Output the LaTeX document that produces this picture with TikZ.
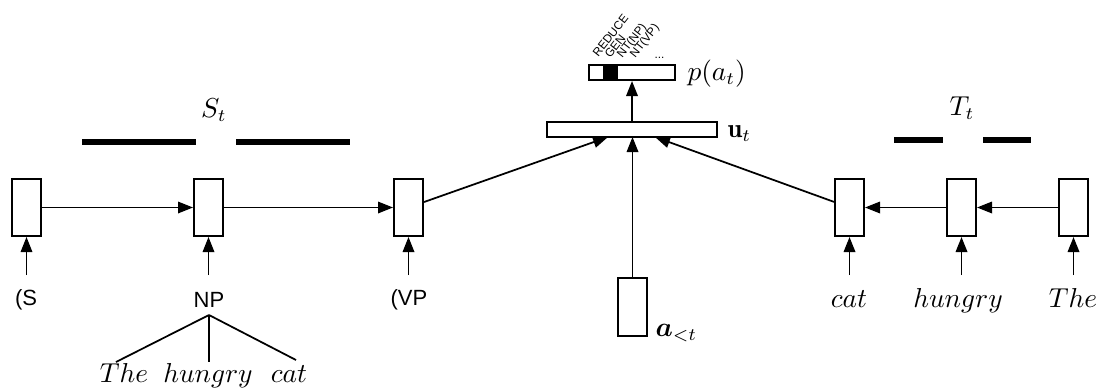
\documentclass[tikz,border=0pt]{standalone}
\usepackage{fontspec}
\setsansfont{Liberation Sans}
\usepackage{bm}
\usetikzlibrary{arrows.meta}
\begin{document}
\begin{tikzpicture}[x=0.4pt,y=-0.4pt,
  cell/.style={draw, line width=0.8pt, fill=white, inner sep=0pt, minimum width=11.6pt, minimum height=22.8pt},
  wide/.style={draw, line width=0.8pt, fill=white, inner sep=0pt, minimum height=6pt},
  conn/.style={line width=0.7pt, -{Triangle[length=6pt,width=4.6pt]}},
  plain/.style={line width=0.7pt},
  bar/.style={line width=2.4pt},
  sans/.style={font=\fontsize{8.8}{10}\selectfont\sffamily, inner sep=0pt},
  mth/.style={font=\fontsize{10.6}{12}\selectfont, inner sep=0pt},
  tiny/.style={font=\fontsize{4.7}{5}\selectfont\sffamily, inner sep=0pt, anchor=base west, rotate=52}]
\useasboundingbox (0,0) rectangle (1097,387);
% stack S_t
\node[cell] (b1) at (26.5,207.5) {};
\node[cell] (b2) at (208.5,207.5) {};
\node[cell] (b3) at (408.5,207.5) {};
\draw[conn] (b1) -- (b2);
\draw[conn] (b2) -- (b3);
\coordinate (s1) at (26.5,275);
\coordinate (s2) at (208.5,275);
\coordinate (s3) at (408.5,275);
\draw[conn] (s1) -- (b1);
\draw[conn] (s2) -- (b2);
\draw[conn] (s3) -- (b3);
\node[sans] (lS) at (26,300) {(S};
\node[sans] (lNP) at (209,300) {NP};
\node[sans] (lVP) at (409,300) {(VP};
% NP tree
\coordinate (np) at (209,315);
\node[mth, anchor=base] (w1) at (124,382) {$The$};
\node[mth, anchor=base] (w2) at (208,382) {$hungry$};
\node[mth, anchor=base] (w3) at (289,382) {$cat$};
\coordinate (w1t) at (116,362);
\coordinate (w2t) at (209,362);
\coordinate (w3t) at (296,360);
\draw[plain] (np) -- (w1t);
\draw[plain] (np) -- (w2t);
\draw[plain] (np) -- (w3t);
% S_t bars
\coordinate (sb1) at (82,142);
\coordinate (sb2) at (196,142);
\coordinate (sb3) at (236,142);
\coordinate (sb4) at (350,142);
\draw[bar] (sb1) -- (sb2);
\draw[bar] (sb3) -- (sb4);
\node[mth, anchor=base] (St) at (214,117) {$S_t$};
% T_t buffer
\node[cell] (c1) at (849.5,207.5) {};
\node[cell] (c2) at (961.5,207.5) {};
\node[cell] (c3) at (1073.5,207.5) {};
\draw[conn] (c3) -- (c2);
\draw[conn] (c2) -- (c1);
\coordinate (t1) at (849.5,275);
\coordinate (t2) at (961.5,275);
\coordinate (t3) at (1073.5,275);
\draw[conn] (t1) -- (c1);
\draw[conn] (t2) -- (c2);
\draw[conn] (t3) -- (c3);
\node[mth, anchor=base] (lc) at (849,307) {$cat$};
\node[mth, anchor=base] (lh) at (958,307) {$hungry$};
\node[mth, anchor=base] (lt) at (1073,307) {$The$};
\coordinate (tb1) at (894,140);
\coordinate (tb2) at (943,140);
\coordinate (tb3) at (983,140);
\coordinate (tb4) at (1031,140);
\draw[bar] (tb1) -- (tb2);
\draw[bar] (tb3) -- (tb4);
\node[mth, anchor=base] (Tt) at (962,115) {$T_t$};
% action history
\node[cell, minimum height=23.2pt] (ab) at (632.5,307) {};
\node[mth, anchor=base west] (al) at (655,336) {$\bm{a}_{<t}$};
% u_t
\node[wide, minimum width=68pt] (u) at (632,129.5) {};
\node[mth, anchor=base west] (ul) at (727,137) {$\mathbf{u}_t$};
\coordinate (u1) at (608,137);
\coordinate (u2) at (632.5,137);
\coordinate (u3) at (655,137);
\draw[conn] (b3) -- (u1);
\draw[conn] (ab) -- (u2);
\draw[conn] (c1) -- (u3);
% p(a_t)
\node[wide, minimum width=34.4pt] (p) at (632,72.5) {};
\fill (603,65) rectangle (618,80);
\node[mth, anchor=base west] (pl) at (687,80) {$p(a_t)$};
\draw[conn] (u) -- (p);
\node[tiny] (r1) at (598,58) {REDUCE};
\node[tiny] (r2) at (610,59) {GEN};
\node[tiny] (r3) at (622,59) {NT(NP)};
\node[tiny] (r4) at (635,59) {NT(VP)};
\node[tiny, rotate=-52] (r5) at (654,58) {...};
\end{tikzpicture}
\end{document}
